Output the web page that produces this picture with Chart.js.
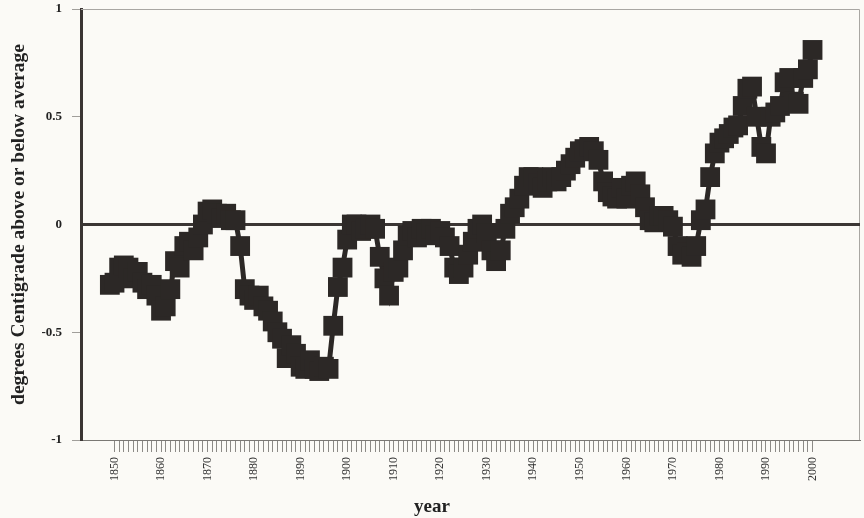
<!DOCTYPE html>
<html>
<head>
<meta charset="utf-8">
<script src="https://cdn.jsdelivr.net/npm/chart.js@4/dist/chart.umd.min.js"></script>
<style>
  html, body { margin: 0; padding: 0; background: #fbfaf6; }
  #wrap { width: 864px; height: 518px; position: relative; }
</style>
</head>
<body>
<div id="wrap"><canvas id="chart" width="864" height="518"></canvas></div>
<script>
// temperature anomaly, one value per year from 1849 to 2000
const firstYear = 1849;
const anomalies = [
  -0.28,
  -0.27, -0.20, -0.19, -0.20, -0.25, -0.22, -0.27, -0.30, -0.28, -0.33, // 1850s
  -0.40, -0.38, -0.30, -0.17, -0.20, -0.10, -0.08, -0.12, -0.06, 0.00,  // 1860s
  0.06, 0.07, 0.05, 0.03, 0.05, 0.02, 0.02, -0.10, -0.30, -0.33,        // 1870s
  -0.35, -0.33, -0.38, -0.40, -0.45, -0.50, -0.53, -0.62, -0.56, -0.60, // 1880s
  -0.66, -0.67, -0.63, -0.67, -0.68, -0.66, -0.67, -0.47, -0.29, -0.20, // 1890s
  -0.07, 0.00, 0.00, -0.03, -0.02, 0.00, -0.02, -0.15, -0.25, -0.33,    // 1900s
  -0.22, -0.20, -0.12, -0.05, -0.03, -0.06, -0.02, -0.04, -0.02, -0.05, // 1910s
  -0.03, -0.06, -0.10, -0.20, -0.23, -0.20, -0.14, -0.08, -0.02, 0.00,  // 1920s
  -0.04, -0.12, -0.17, -0.12, -0.02, 0.05, 0.08, 0.12, 0.18, 0.22,      // 1930s
  0.22, 0.19, 0.17, 0.20, 0.22, 0.20, 0.22, 0.25, 0.28, 0.31,           // 1940s
  0.34, 0.35, 0.36, 0.34, 0.30, 0.20, 0.15, 0.13, 0.12, 0.17,           // 1950s
  0.12, 0.18, 0.20, 0.14, 0.08, 0.02, 0.01, 0.04, 0.04, 0.02,           // 1960s
  -0.01, -0.10, -0.14, -0.13, -0.15, -0.10, 0.02, 0.07, 0.22, 0.33,     // 1970s
  0.38, 0.40, 0.42, 0.45, 0.46, 0.55, 0.63, 0.64, 0.50, 0.36,           // 1980s
  0.33, 0.50, 0.52, 0.55, 0.66, 0.68, 0.57, 0.56, 0.68, 0.72,           // 1990s
  0.81
];
const years = anomalies.map((_, i) => firstYear + i);

const xTickLabels = [1850, 1860, 1870, 1880, 1890, 1900, 1910, 1920, 1930, 1940, 1950, 1960, 1970, 1980, 1990, 2000];
const yTickValues = [-1, -0.5, 0, 0.5, 1];
const yTickLabels = ["-1", "-0.5", "0", "0.5", "1"];

const ink = "#2c2826";
const serif = "'Liberation Serif', 'DejaVu Serif', serif";

// one small tick per year under the axis
const minorTicks = [];
for (let y = 1850; y <= 2000; y++) minorTicks.push(y);

const framePlugin = {
  id: "frame",
  beforeDatasetsDraw(chart) {
    const { ctx, chartArea } = chart;
    const y0 = chart.scales.y.getPixelForValue(0);
    ctx.save();
    ctx.strokeStyle = "#a8a6a2";
    ctx.lineWidth = 1;
    ctx.beginPath();
    ctx.moveTo(chartArea.left, chartArea.top + 0.5);
    ctx.lineTo(chartArea.right - 0.5, chartArea.top + 0.5);
    ctx.lineTo(chartArea.right - 0.5, chartArea.bottom);
    ctx.stroke();
    ctx.strokeStyle = "#3b3634";
    ctx.lineWidth = 3;
    ctx.beginPath();
    ctx.moveTo(chartArea.left, y0);
    ctx.lineTo(chartArea.right, y0);
    ctx.stroke();
    ctx.restore();
  },
  afterDraw(chart) {
    const { ctx } = chart;
    ctx.save();
    ctx.fillStyle = "#222";
    ctx.font = "bold 19px " + serif;
    ctx.textAlign = "center";
    ctx.textBaseline = "middle";
    ctx.fillText("year", 432, 507);
    ctx.restore();
  }
};

new Chart(document.getElementById("chart"), {
  type: "line",
  data: {
    datasets: [
      {
        data: years.map((yr, i) => ({ x: yr, y: anomalies[i] })),
        borderColor: ink,
        backgroundColor: ink,
        borderWidth: 5,
        pointStyle: "rect",
        pointRadius: 14,
        pointBackgroundColor: ink,
        pointBorderWidth: 0,
        tension: 0
      }
    ]
  },
  options: {
    responsive: false,
    animation: false,
    devicePixelRatio: 1,
    layout: { autoPadding: false, padding: { top: 0, right: 4, left: 0, bottom: 0 } },
    plugins: { legend: { display: false }, tooltip: { enabled: false } },
    scales: {
      x: {
        type: "linear",
        min: 1842.8,
        max: 2010.2,
        afterBuildTicks: (scale) => {
          scale.ticks = minorTicks.map((v) => ({ value: v }));
        },
        afterFit: (scale) => { scale.height = 78; },
        ticks: {
          autoSkip: false,
          minRotation: 90,
          maxRotation: 90,
          padding: 5,
          color: "#333",
          font: { family: serif, size: 12 },
          callback: (v) => (xTickLabels.includes(v) ? String(v) : "")
        },
        grid: { drawOnChartArea: false, tickLength: 12, color: "#8c8a86", lineWidth: 1 },
        border: { color: "#7a7874", width: 1 }
      },
      y: {
        min: -1,
        max: 1,
        afterBuildTicks: (scale) => {
          scale.ticks = yTickValues.map((v) => ({ value: v }));
        },
        afterFit: (scale) => {
          scale.width = 81;
          scale.paddingTop = 9;
        },
        ticks: {
          padding: 10,
          color: "#222",
          font: { family: serif, size: 13, weight: "bold" },
          callback: (v) => yTickLabels[yTickValues.indexOf(v)]
        },
        grid: {
          drawOnChartArea: false,
          tickLength: 9,
          color: (c) => (c.tick && c.tick.value === 0 ? "rgba(0,0,0,0)" : "#a09e9a")
        },
        border: { color: "#3a3533", width: 3 },
        title: {
          display: true,
          text: "degrees Centigrade above or below average",
          color: "#222",
          font: { family: serif, size: 19.5, weight: "bold" },
          padding: { top: 7, bottom: 0 }
        }
      }
    }
  },
  plugins: [framePlugin]
});
</script>
</body>
</html>
